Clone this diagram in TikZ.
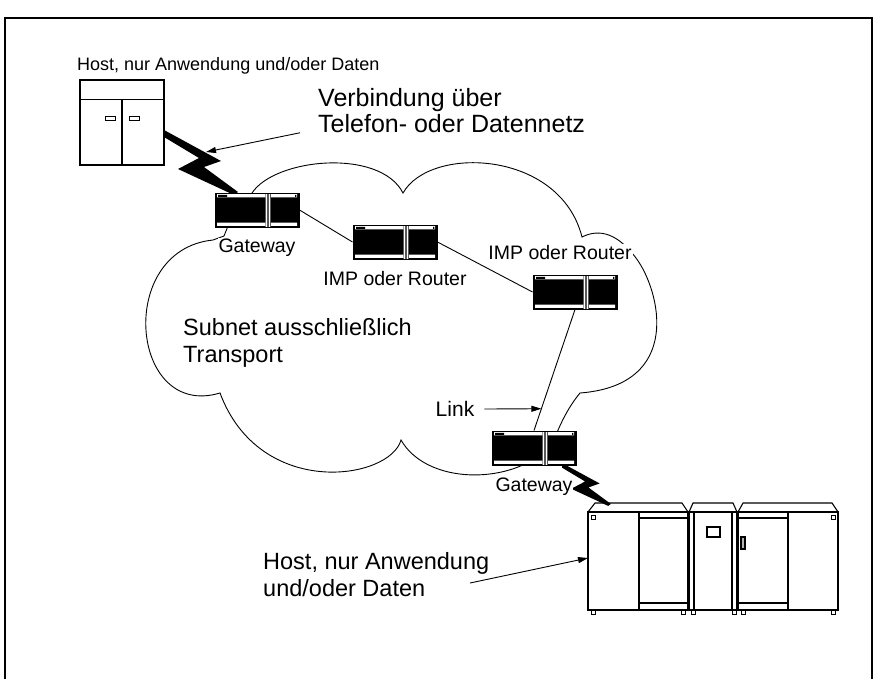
\documentclass[tikz,border=0pt]{standalone}
\usepackage{fontspec}
\setmainfont{Liberation Sans}
\usetikzlibrary{positioning, arrows.meta}

\tikzset{
  blitz/.pic={
    \fill (0,0) -- (57,31) -- (40,37) -- (74,62) -- (70,65) -- (14,39) -- (35,28) -- (0,7) -- cycle;
    \coordinate (-spitze) at (42,22);
  }
}

\begin{document}
\begin{tikzpicture}[
    x=1pt, y=-1pt,
    imp/.style={draw, fill=black, line width=1pt, minimum width=84pt, minimum height=34pt, inner sep=0pt,
      path picture={
        \begin{scope}[x=1pt, y=-1pt]
          \fill[white] (-40,-15.8) rectangle (8,-12.6) (14,-15.8) rectangle (40,-12.6)
                       (-40,12.6) rectangle (8,15.8) (14,12.6) rectangle (40,15.8)
                       (8.6,-17) rectangle (13.4,17);
          \fill[black] (10.4,-17) rectangle (11.6,17) (-39,-15.2) rectangle (-30,-13.2)
                       (38,-15.2) rectangle (39.4,-13.2);
        \end{scope}}},
    lbl/.style={fill=white, inner sep=1pt, font=\fontsize{19.5}{23}\selectfont},
    txt/.style={align=left, inner sep=0pt, font=\fontsize{23.5}{27}\selectfont},
    link/.style={line width=0.9pt},
    pfeil/.style={line width=0.9pt, -{Triangle[length=10pt, width=6pt]}},
    kante/.style={line width=1.1pt}
  ]
  \useasboundingbox (0,0) rectangle (877,678);
  \draw[line width=1.5pt] (5,690) -- (5,18) -- (872,18) -- (872,690);

  % Wolke
  \draw[line width=0.9pt] (252,193) .. controls (275,158) and (380,148) .. (403,193)
    .. controls (430,145) and (560,150) .. (582,237)
    .. controls (600,228) and (618,234) .. (636,258)
    .. controls (660,290) and (684,385) .. (580,393)
    .. controls (570,405) and (562,420) .. (556,435) -- (540,455)
    .. controls (500,485) and (425,482) .. (401,440)
    .. controls (390,480) and (260,500) .. (220,393)
    .. controls (130,420) and (115,250) .. (213,240)
    -- (224,236) -- (228,226) -- cycle;

  % Host oben links
  \node[draw, kante, minimum width=84pt, minimum height=85pt, inner sep=0pt] (host1) at (122,122.5) {};
  \draw[kante] ([yshift=-20pt]host1.north west) -- ([yshift=-20pt]host1.north east);
  \draw[kante] ([yshift=-20pt]host1.north) -- (host1.south);
  \foreach \x in {105,129} \draw[line width=0.8pt] (\x,116) rectangle +(10,4);

  \pic (blitzA) at (164,130) {blitz};
  \pic[scale=0.66] (blitzB) at (562,463) {blitz};

  % Rechner im Subnet
  \node[imp] (gw1) at (257,210) {};
  \node[imp] (imp1) at (395,242) {};
  \node[imp] (imp2) at (575,292) {};
  \node[imp] (gw2) at (534,448) {};

  \node[lbl, below=10pt of gw1] {Gateway};
  \node[lbl, below=11pt of imp1] {IMP oder Router};
  \node[lbl, above=14pt of imp2, xshift=-15pt] {IMP oder Router};
  \node[lbl, below=11pt of gw2] {Gateway};

  \draw[link] (gw1.east) -- (imp1.west);
  \draw[link] (imp1.east) -- (imp2.west);
  \draw[link] (imp2.south) -- coordinate[pos=0.82] (lnk) (gw2.north);

  % Host unten rechts
  \begin{scope}[kante]
    \draw (588,512) -- (595,503) -- (682,503) -- (688,512);
    \draw (689,512) -- (693,503) -- (733,503) -- (737,512);
    \draw (738,512) -- (743,503) -- (832,503) -- (838,512);
    \draw (588,512) rectangle (688,610) (689,512) rectangle (737,610) (738,512) rectangle (838,610);
    \draw[line width=1.6pt] (639,512) -- (639,610) (788,512) -- (788,610);
    \draw (639,518) -- (688,518) (639,603) -- (688,603) (738,518) -- (788,518) (738,603) -- (788,603);
    \draw (694,512) -- (694,610) (732,512) -- (732,610);
    \draw (707,527) rectangle (720,537);
    \draw[fill=black!30] (741,537) rectangle (745,549);
    \foreach \x in {591,831} \draw[line width=0.8pt] (\x,515) rectangle +(4,4);
    \foreach \x in {591,681,691,732,741,831} \draw[line width=0.8pt] (\x,610) rectangle +(4,4);
  \end{scope}
  \coordinate (host2) at (588,558);

  % Texte
  \node[anchor=base west, inner sep=0pt, font=\fontsize{18}{22}\selectfont] (hostA) at (77,70) {Host, nur Anwendung und/oder Daten};
  \node[txt, anchor=north west, font=\fontsize{25}{26}\selectfont] (verb) at (318,88) {Verbindung über\\Telefon- oder Datennetz};
  \node[txt, anchor=north west] (subnet) at (183,318) {Subnet ausschließlich\\Transport};
  \node[txt, font=\fontsize{21}{25}\selectfont] (linktxt) at (455,409) {Link};
  \node[txt, anchor=base west] (hostB) at (263,596) {Host, nur Anwendung\\und/oder Daten};
  \coordinate (zeiger) at (470,583);

  \draw[pfeil] ([xshift=-18pt]verb.south west) -- (blitzA-spitze);
  \draw[pfeil] ([xshift=10pt]linktxt.east) -- (lnk);
  \draw[pfeil] (zeiger) -- (host2);
\end{tikzpicture}
\end{document}
